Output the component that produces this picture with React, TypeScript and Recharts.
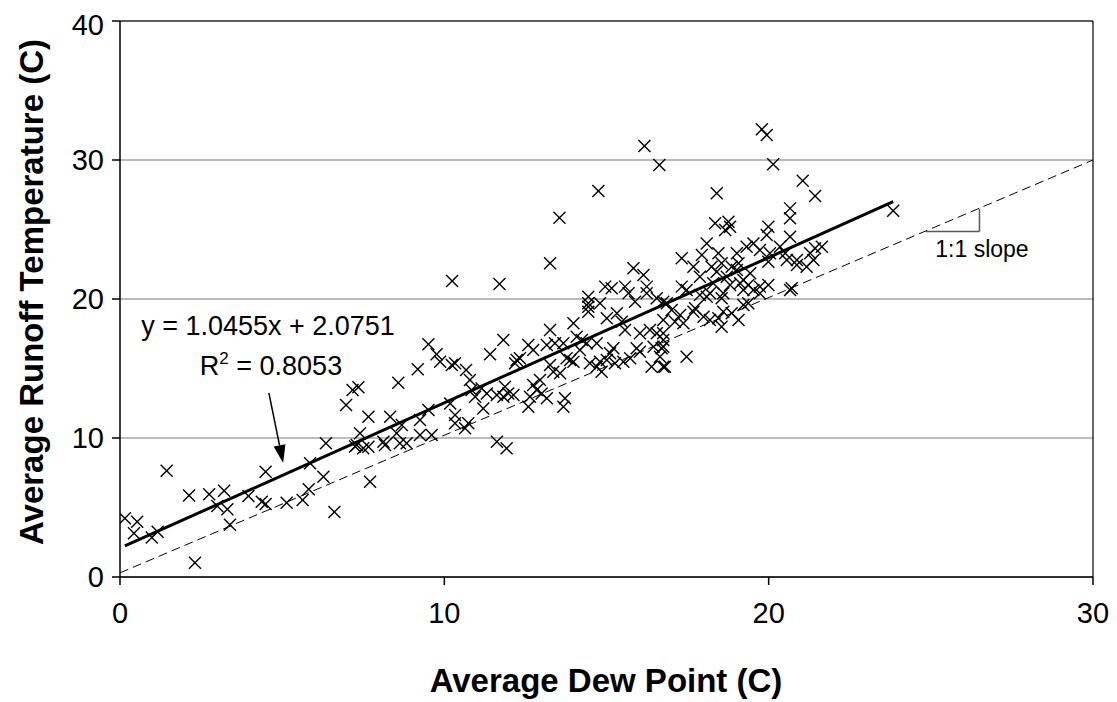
import {
  ScatterChart,
  Scatter,
  XAxis,
  YAxis,
  CartesianGrid,
  ReferenceLine,
} from "recharts";

// Average dew point (C) for each runoff event
const dewPoint = [
  0.15, 0.53, 0.43, 0.98, 1.16, 1.44, 2.13, 2.75, 3.21, 3.0, 3.31, 3.39, 2.31, 3.96, 4.37, 4.49, 4.49, 5.14, 5.63, 5.82,
  5.86, 6.27, 6.35, 6.61, 6.97, 7.17, 7.25,
  9.51, 9.76, 9.87, 10.23, 10.33, 9.18, 8.58, 10.67, 10.79, 11.41, 11.82, 7.35, 7.66, 8.33, 8.69, 9.25, 9.51, 10.18, 10.33,
  10.33, 10.74, 10.64, 10.84, 10.95, 11.15, 11.31, 11.2, 11.62, 11.82, 9.25, 9.61, 8.53, 8.63, 8.84, 8.12, 8.17, 7.4, 7.3,
  7.5, 7.66, 7.71, 11.62, 11.92, 10.24, 11.7,
  13.55, 14.75, 13.26, 16.63, 16.17, 14.44, 14.8, 14.96, 15.16, 15.57, 15.68, 15.83, 16.14, 16.24, 16.24, 15.88, 16.55,
  16.75, 14.44,
  12.59, 12.74, 13.26, 13.98, 13.41, 13.16, 13.67, 14.08, 14.24, 14.18, 14.39, 14.7, 15.01, 15.32, 15.47, 15.57, 14.44,
  14.44, 16.03, 16.34, 16.55, 16.75, 16.7, 15.93, 16.03, 15.73, 15.52, 15.21, 15.11, 15.26, 15.01, 14.8, 14.7, 14.85,
  14.49, 13.77, 13.88, 13.98, 13.26, 13.57, 13.36, 12.95, 12.74, 12.85, 13.0, 13.16, 12.64, 12.59, 13.72, 13.67, 11.87,
  11.97, 12.13, 12.23, 12.33, 12.18, 16.39, 16.75, 16.45, 16.65,
  19.79, 19.94, 20.14, 18.4, 21.05, 21.43, 20.66, 20.66, 18.35, 18.76, 18.81, 18.66, 19.99, 19.94, 20.66, 18.09, 17.32,
  17.94, 17.68, 18.45, 18.55, 19.02, 19.32, 19.53, 19.73, 20.04, 19.99, 20.35, 20.51, 20.56, 20.87, 20.87, 21.28, 21.43,
  21.64, 21.38, 21.17, 18.24, 18.4, 18.86, 19.02, 18.71, 19.22, 19.43, 17.88, 18.29, 17.32, 18.81, 19.12, 19.37, 19.53,
  19.73, 19.99, 20.71, 17.88, 18.19, 18.6, 19.22, 19.07, 23.84,
  17.47, 18.55, 19.22, 19.37, 19.73, 20.66, 17.73, 17.68, 16.86, 17.01, 17.27, 16.75, 17.11, 17.37, 17.99, 18.19, 18.45,
  18.55, 19.07, 18.6, 18.86, 16.75, 16.75, 17.47, 16.8, 18.09,
];

// Average runoff temperature (C), same order as dewPoint
const runoffTemp = [
  4.22, 3.98, 3.14, 2.85, 3.26, 7.65, 5.87, 5.95, 6.21, 5.1, 4.87, 3.76, 1.03, 5.83, 5.42, 5.25, 7.58, 5.35, 5.54, 6.31,
  8.18, 7.22, 9.62, 4.68, 12.37, 13.45, 9.38,
  16.74, 16.02, 15.49, 15.25, 15.37, 14.94, 13.98, 14.89, 14.17, 16.02, 17.05, 13.65, 11.53, 11.53, 10.94, 11.29, 12.01,
  12.49, 11.65, 11.06, 11.06, 10.7, 13.45, 12.97, 13.57, 13.21, 12.13, 13.09, 12.97, 10.22, 10.22, 10.34, 9.62, 9.62, 9.73,
  9.5, 10.34, 9.5, 9.26, 9.37, 6.86, 9.73, 9.26, 21.3, 21.08,
  25.85, 27.77, 22.57, 29.64, 31.0, 20.17, 19.69, 20.89, 20.77, 20.89, 20.41, 22.21, 21.73, 20.89, 20.41, 19.81, 20.05,
  19.81, 19.69,
  16.69, 16.33, 17.77, 18.25, 16.81, 16.69, 16.81, 17.29, 17.05, 16.33, 16.81, 16.81, 18.61, 18.97, 18.37, 17.77, 19.45,
  19.09, 17.53, 17.77, 17.53, 17.05, 16.45, 16.45, 16.21, 15.73, 15.49, 16.45, 16.09, 15.37, 15.61, 15.49, 15.13, 14.77,
  15.37, 15.73, 15.61, 15.49, 15.25, 14.65, 14.77, 14.17, 13.81, 13.45, 13.21, 12.86, 12.97, 12.25, 12.86, 12.25, 13.69,
  13.21, 13.09, 15.61, 15.73, 15.37, 15.13, 15.13, 16.57, 15.85,
  32.21, 31.8, 29.69, 27.6, 28.51, 27.41, 26.52, 25.81, 25.45, 25.56, 25.2, 24.96, 25.2, 24.6, 24.48, 24.0, 22.93, 23.17,
  22.32, 23.29, 22.57, 23.29, 23.76, 24.0, 23.52, 23.29, 22.68, 23.76, 23.29, 22.81, 22.81, 22.45, 23.29, 23.65, 23.76,
  22.81, 22.32, 22.32, 21.96, 22.32, 22.09, 21.6, 21.37, 21.85, 21.6, 21.13, 20.89, 21.01, 21.13, 21.01, 20.65, 20.89,
  21.01, 20.77, 20.29, 20.41, 20.41, 20.65, 22.57, 26.35,
  20.65, 20.05, 19.57, 19.69, 20.41, 20.65, 19.33, 19.09, 19.69, 19.21, 18.85, 18.49, 18.37, 18.25, 18.73, 18.49, 18.61,
  18.01, 18.49, 19.09, 18.97, 17.53, 16.57, 15.85, 15.13, 20.17,
];

const xTicks = [0, 10, 20, 30];
const yTicks = [0, 10, 20, 30, 40];

// linear fit reported on the chart
const slope = 1.0455;
const intercept = 2.0751;
const rSquared = 0.8053;

const points = dewPoint.map((x, i) => ({ x, y: runoffTemp[i] }));
const xMin = Math.min(...dewPoint);
const xMax = Math.max(...dewPoint);
const fitLine = [
  { x: xMin, y: slope * xMin + intercept },
  { x: xMax, y: slope * xMax + intercept },
];

const FONT = '"Liberation Sans", Arial, sans-serif';

const Cross = (props: any) => {
  const { cx, cy } = props;
  const s = 6;
  return (
    <g stroke="#000" strokeWidth={1.4}>
      <line x1={cx - s} y1={cy - s} x2={cx + s} y2={cy + s} />
      <line x1={cx - s} y1={cy + s} x2={cx + s} y2={cy - s} />
    </g>
  );
};

// arrow pointing from the equation down onto the fit line
const Arrow = (props: any) => {
  const { x1, y1, x2, y2 } = props;
  const ang = Math.atan2(y2 - y1, x2 - x1);
  const len = 18;
  const half = 6;
  const bx = x2 - len * Math.cos(ang);
  const by = y2 - len * Math.sin(ang);
  const px = -Math.sin(ang) * half;
  const py = Math.cos(ang) * half;
  return (
    <g>
      <line x1={x1} y1={y1} x2={bx} y2={by} stroke="#000" strokeWidth={1.5} />
      <polygon points={`${x2},${y2} ${bx + px},${by + py} ${bx - px},${by - py}`} fill="#000" />
    </g>
  );
};

export default function App() {
  return (
    <div style={{ width: 1109, height: 694, background: "#fff", fontFamily: FONT }}>
      <ScatterChart width={1109} height={694} margin={{ top: 13, right: 24, left: 0, bottom: 0 }}>
        <CartesianGrid horizontal vertical={false} stroke="#777" strokeWidth={1} />
        <XAxis
          type="number"
          dataKey="x"
          domain={[0, 30]}
          ticks={xTicks}
          height={125}
          tickSize={8}
          tickMargin={17}
          stroke="#000"
          strokeWidth={1.5}
          tick={{ fill: "#000", fontSize: 29, fontFamily: FONT }}
          allowDataOverflow
        />
        <YAxis
          type="number"
          dataKey="y"
          domain={[0, 40]}
          ticks={yTicks}
          width={112}
          tickSize={8}
          tickMargin={8}
          stroke="#000"
          strokeWidth={1.5}
          tick={{ fill: "#000", fontSize: 29, fontFamily: FONT }}
          allowDataOverflow
        />
        <ReferenceLine y={40} stroke="#000" strokeWidth={1.2} />
        <ReferenceLine x={30} stroke="#000" strokeWidth={1.2} />
        <ReferenceLine
          segment={[{ x: 0, y: 0.3 }, { x: 30, y: 30 }]}
          stroke="#000"
          strokeWidth={1}
          strokeDasharray="9 5"
          ifOverflow="visible"
        />
        <ReferenceLine
          segment={[{ x: 24.85, y: 24.85 }, { x: 26.5, y: 24.85 }]}
          stroke="#595959"
          strokeWidth={1.5}
        />
        <ReferenceLine
          segment={[{ x: 26.5, y: 24.85 }, { x: 26.5, y: 26.5 }]}
          stroke="#595959"
          strokeWidth={1.5}
        />
        <Scatter data={points} shape={<Cross />} isAnimationActive={false} />
        <ReferenceLine segment={fitLine} stroke="#000" strokeWidth={3} />
        <ReferenceLine
          segment={[{ x: 4.59, y: 13.24 }, { x: 5.03, y: 8.2 }]}
          shape={<Arrow />}
        />
        <text x={260} y={327} textAnchor="middle" fontSize={27} fontFamily={FONT} fill="#000">
          {`y = ${slope}x + ${intercept}`}
        </text>
        <text x={263} y={367} textAnchor="middle" fontSize={27} fontFamily={FONT} fill="#000">
          R<tspan fontSize={17} dy={-11}>2</tspan>
          <tspan dy={11}>{` = ${rSquared}`}</tspan>
        </text>
        <text x={974} y={249} textAnchor="middle" fontSize={23} fontFamily={FONT} fill="#000">
          1:1 slope
        </text>
        <text x={598} y={684} textAnchor="middle" fontSize={33} fontWeight="bold" fontFamily={FONT} fill="#000">
          Average Dew Point (C)
        </text>
        <text
          transform="translate(35, 284) rotate(-90)"
          textAnchor="middle"
          fontSize={33}
          fontWeight="bold"
          fontFamily={FONT}
          fill="#000"
        >
          Average Runoff Temperature (C)
        </text>
      </ScatterChart>
    </div>
  );
}
